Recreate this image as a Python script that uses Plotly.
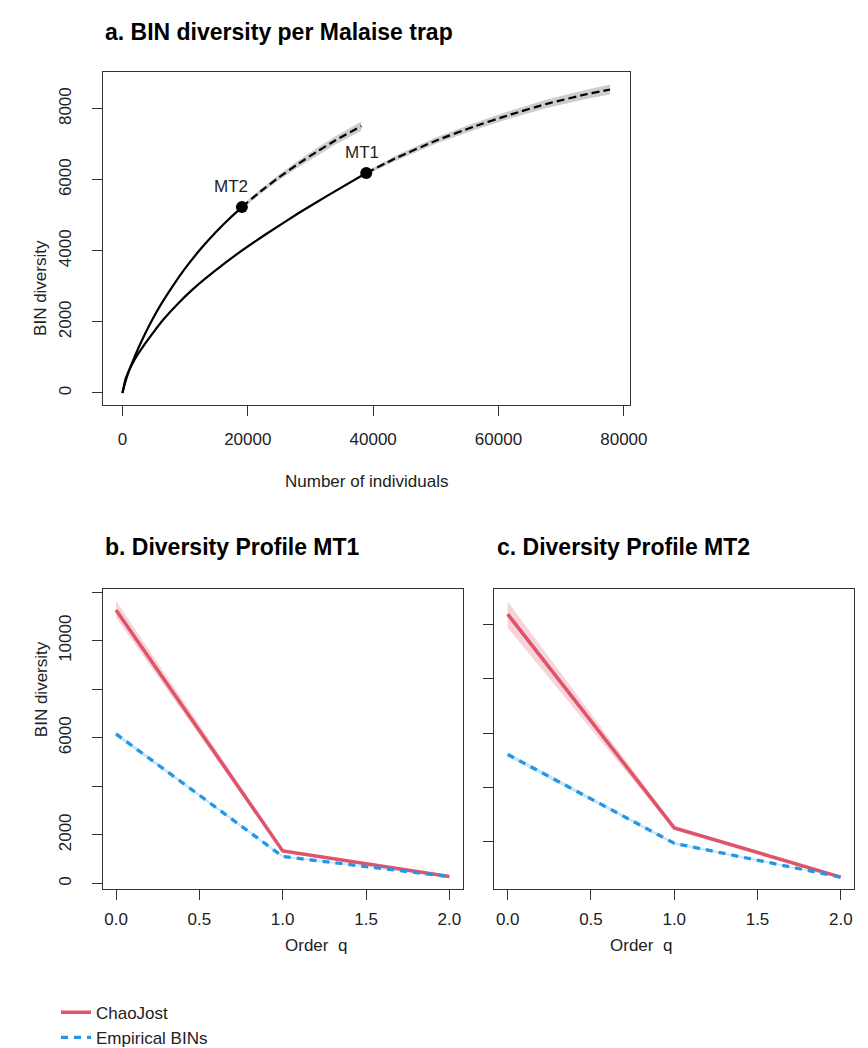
import plotly.graph_objects as go

W, H = 868, 1048

# ---------------- Panel a data (rarefaction / extrapolation) ----------------
mt1_int_x = [0, 500, 1000, 1500, 2200, 3500, 5000, 6600, 9000, 11300, 14500, 18600, 23000, 28000, 33000, 38900]
mt1_int_y = [0, 399, 616, 796, 1014, 1358, 1720, 2080, 2540, 2930, 3400, 3950, 4480, 5050, 5583, 6190]
mt1_ext_x = [38900, 44000, 50000, 56000, 62000, 68000, 74000, 77800]
mt1_ext_y = [6190, 6640, 7100, 7490, 7840, 8150, 8405, 8540]
mt1_ext_half = [50, 75, 90, 100, 110, 120, 130, 140]

mt2_int_x = [0, 500, 1000, 2000, 3000, 4500, 6000, 8000, 10000, 12500, 15000, 17000, 19060]
mt2_int_y = [0, 330, 600, 1040, 1440, 1975, 2450, 3002, 3504, 4057, 4544, 4896, 5230]
mt2_ext_x = [19060, 22000, 25000, 28000, 31000, 34000, 38120]
mt2_ext_y = [5230, 5665, 6070, 6443, 6788, 7110, 7510]
mt2_ext_half = [50, 65, 80, 95, 105, 115, 130]

obs_labels = ["MT1", "MT2"]
obs_x = [38900, 19060]
obs_y = [6190, 5230]

# ---------------- Panels b, c data (diversity profiles) ----------------
order_q = [0, 1, 2]
mt1_chao = [11270, 1340, 290]
mt1_chao_lo = [10950, 1270, 250]
mt1_chao_hi = [11650, 1420, 330]
mt1_emp = [6160, 1110, 280]
mt1_emp_lo = [6080, 1070, 260]
mt1_emp_hi = [6240, 1150, 300]

mt2_chao = [10390, 2500, 680]
mt2_chao_lo = [9880, 2420, 650]
mt2_chao_hi = [10850, 2580, 710]
mt2_emp = [5210, 1930, 680]
mt2_emp_lo = [5130, 1880, 660]
mt2_emp_hi = [5290, 1980, 700]

a_xticks = [0, 20000, 40000, 60000, 80000]
a_yticks = [0, 2000, 4000, 6000, 8000]
q_ticks = [0, 0.5, 1.0, 1.5, 2.0]
q_ticktext = ["0.0", "0.5", "1.0", "1.5", "2.0"]
b_yticks = [0, 2000, 4000, 6000, 8000, 10000, 12000]
b_yticktext = ["0", "2000", "", "6000", "", "10000", ""]
c_yticks = [2000, 4000, 6000, 8000, 10000]

RED = "#DF536B"
BLUE = "#2297E6"
RED_BAND = "rgba(223,83,107,0.25)"
BLUE_BAND = "rgba(34,151,230,0.25)"
GREY_BAND = "#CDCDCD"
FONT = "Liberation Sans, Arial, Helvetica, sans-serif"

fig = go.Figure()


def band(x, lo, hi, color, xa, ya):
    fig.add_trace(go.Scatter(x=list(x) + list(x)[::-1], y=list(hi) + list(lo)[::-1],
                             fill="toself", fillcolor=color, line=dict(width=0),
                             mode="lines", hoverinfo="skip", showlegend=False,
                             xaxis=xa, yaxis=ya))


# Panel a
band(mt2_ext_x, [y - h for y, h in zip(mt2_ext_y, mt2_ext_half)],
     [y + h for y, h in zip(mt2_ext_y, mt2_ext_half)], GREY_BAND, "x", "y")
band(mt1_ext_x, [y - h for y, h in zip(mt1_ext_y, mt1_ext_half)],
     [y + h for y, h in zip(mt1_ext_y, mt1_ext_half)], GREY_BAND, "x", "y")
for xs, ys in [(mt1_int_x, mt1_int_y), (mt2_int_x, mt2_int_y)]:
    fig.add_trace(go.Scatter(x=xs, y=ys, mode="lines",
                             line=dict(color="black", width=2.2, shape="spline", smoothing=0.4),
                             showlegend=False, xaxis="x", yaxis="y"))
for xs, ys in [(mt1_ext_x, mt1_ext_y), (mt2_ext_x, mt2_ext_y)]:
    fig.add_trace(go.Scatter(x=xs, y=ys, mode="lines",
                             line=dict(color="black", width=2.2, dash="8px,4px", shape="spline", smoothing=0.4),
                             showlegend=False, xaxis="x", yaxis="y"))
fig.add_trace(go.Scatter(x=obs_x, y=obs_y, mode="markers", marker=dict(color="black", size=12),
                         showlegend=False, xaxis="x", yaxis="y"))

# Panels b and c
panels = [("x2", "y2", mt1_chao, mt1_chao_lo, mt1_chao_hi, mt1_emp, mt1_emp_lo, mt1_emp_hi, True),
          ("x3", "y3", mt2_chao, mt2_chao_lo, mt2_chao_hi, mt2_emp, mt2_emp_lo, mt2_emp_hi, False)]
for xa, ya, ch, chl, chh, em, eml, emh, leg in panels:
    band(order_q, chl, chh, RED_BAND, xa, ya)
    band(order_q, eml, emh, BLUE_BAND, xa, ya)
    fig.add_trace(go.Scatter(x=order_q, y=ch, mode="lines", name="ChaoJost",
                             line=dict(color=RED, width=3.5), showlegend=leg, xaxis=xa, yaxis=ya))
    fig.add_trace(go.Scatter(x=order_q, y=em, mode="lines", name="Empirical BINs",
                             line=dict(color=BLUE, width=3.3, dash="7px,6px"), showlegend=leg,
                             xaxis=xa, yaxis=ya))


def px(v):
    return v / W


def py(v):
    return 1 - v / H


axis_style = dict(showline=True, linecolor="#333333", linewidth=1.3, mirror=True,
                  ticks="outside", ticklen=10, tickwidth=1.3, tickcolor="#333333",
                  showgrid=False, zeroline=False,
                  tickfont=dict(family=FONT, size=17, color="#222222"))

fig.update_layout(
    width=W, height=H, margin=dict(l=0, r=0, t=0, b=0),
    paper_bgcolor="white", plot_bgcolor="white",
    xaxis=dict(domain=[px(96.7), px(635)], range=[-3150, 80950], tickvals=a_xticks,
               ticktext=[str(v) for v in a_xticks], anchor="y", ticklabelstandoff=8, **axis_style),
    yaxis=dict(domain=[py(402.7), py(64.5)], range=[-347, 9042], tickvals=a_yticks,
               ticktext=[str(v) for v in a_yticks], tickangle=-90, anchor="x",
               ticklabelstandoff=14, **axis_style),
    xaxis2=dict(domain=[px(96.7), px(464.3)], range=[-0.08, 2.08], tickvals=q_ticks,
                ticktext=q_ticktext, anchor="y2", ticklabelstandoff=5, **axis_style),
    yaxis2=dict(domain=[py(892.7), py(589.3)], range=[-220, 12114], tickvals=b_yticks,
                ticktext=b_yticktext, tickangle=-90, anchor="x2", ticklabelstandoff=14, **axis_style),
    xaxis3=dict(domain=[px(496.7), px(864)], range=[-0.08, 2.08], tickvals=q_ticks,
                ticktext=q_ticktext, anchor="y3", ticklabelstandoff=5, **axis_style),
    yaxis3=dict(domain=[py(892.7), py(589.3)], range=[251, 11304], tickvals=c_yticks,
                showticklabels=False, anchor="x3", **axis_style),
    legend=dict(x=px(49), y=py(1000), xanchor="left", yanchor="top",
                font=dict(family=FONT, size=17, color="#222222"),
                itemwidth=30, bgcolor="rgba(0,0,0,0)", tracegroupgap=0),
    showlegend=True,
)

ann = []
title_font = dict(family=FONT, size=23, color="black")
ann.append(dict(text="<b>a. BIN diversity per Malaise trap</b>", x=px(97), y=py(24), xref="paper", yref="paper",
                xanchor="left", yanchor="middle", showarrow=False, font=title_font))
ann.append(dict(text="<b>b. Diversity Profile MT1</b>", x=px(97), y=py(546), xref="paper", yref="paper",
                xanchor="left", yanchor="middle", showarrow=False, font=title_font))
ann.append(dict(text="<b>c. Diversity Profile MT2</b>", x=px(497), y=py(546), xref="paper", yref="paper",
                xanchor="left", yanchor="middle", showarrow=False, font=title_font))
lab_font = dict(family=FONT, size=17, color="#222222")
ann.append(dict(text="BIN diversity", x=px(22), y=py(233), xref="paper", yref="paper", textangle=-90,
                showarrow=False, font=lab_font))
ann.append(dict(text="BIN diversity", x=px(22), y=py(741), xref="paper", yref="paper", textangle=-90,
                showarrow=False, font=lab_font))
ann.append(dict(text="Number of individuals", x=px(366), y=py(480), xref="paper", yref="paper",
                showarrow=False, font=lab_font))
ann.append(dict(text="Order  q", x=px(280.5), y=py(962), xref="paper", yref="paper",
                showarrow=False, font=lab_font))
ann.append(dict(text="Order  q", x=px(680.3), y=py(962), xref="paper", yref="paper",
                showarrow=False, font=lab_font))
shifts = {"MT1": (-4, 20), "MT2": (-11, 21)}
for lab, xv, yv in zip(obs_labels, obs_x, obs_y):
    ann.append(dict(text=lab, x=xv, y=yv, xref="x", yref="y", xshift=shifts[lab][0], yshift=shifts[lab][1],
                    showarrow=False, font=lab_font))
fig.update_layout(annotations=ann)

fig.write_html("out.html")
